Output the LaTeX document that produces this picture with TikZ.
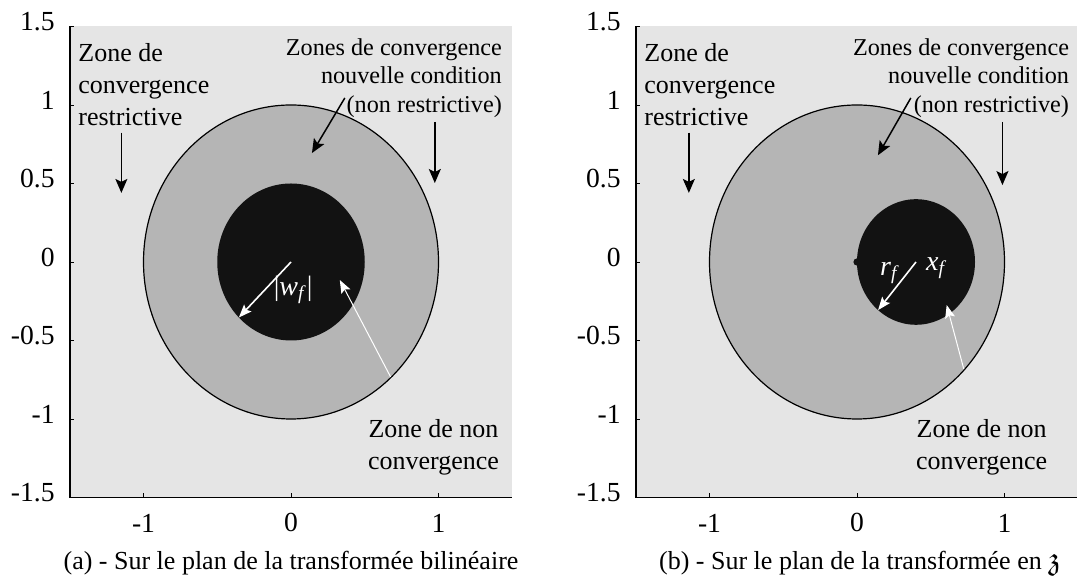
\documentclass[tikz,border=0pt]{standalone}
\usepackage{amssymb}
\usepackage{fontspec}
\setmainfont{Liberation Serif}
\usetikzlibrary{arrows.meta,calc}
\definecolor{fondgris}{gray}{0.90}
\definecolor{anneaugris}{gray}{0.71}
\definecolor{disquenoir}{gray}{0.07}
\tikzset{
  lbl/.style={inner sep=0pt, font=\fontsize{13}{16}\selectfont},
  lblz/.style={inner sep=0pt, font=\fontsize{12.1}{14.3}\selectfont},
  graduation/.style={inner sep=0pt, font=\fontsize{13.8}{16}\selectfont},
  txtblanc/.style={inner sep=0pt, text=white, font=\fontsize{14}{16}\selectfont},
  flnoire/.style={-{Stealth[length=7pt,width=6pt,inset=1.5pt]}, line width=0.75pt},
  flblanche/.style={-{Stealth[length=6.5pt,width=5pt,inset=1.2pt]}, white, line width=0.5pt},
  axe/.style={line width=0.8pt},
}
\begin{document}
\begin{tikzpicture}
  \useasboundingbox (0,0) rectangle (538.5pt,291pt);

  % (a) plan de la transformee bilineaire
  \begin{scope}[xshift=145.5pt, yshift=160pt, x=73.75pt, y=78.5pt]
    \fill[fondgris] (-1.5,-1.5) rectangle (1.5,1.5);
    \filldraw[fill=anneaugris, line width=0.6pt] (0,0) circle (1);
    \fill[disquenoir] (0,0) circle (0.5);

    \draw[axe] (-1.5,1.5) -- (-1.5,-1.5) -- (1.5,-1.5);
    \foreach \y [count=\i] in {-1.5,-1,-0.5,0,0.5,1,1.5} {
      \draw (-1.5,\y) -- ++(2pt,0);
      \node[graduation, anchor=east, yshift=2.5pt] (ya\i) at (-1.6,\y) {\y};
    }
    \foreach \x [count=\i] in {-1,0,1} {
      \draw (\x,-1.5) -- ++(0,2pt);
      \node[graduation] (xa\i) at (\x,-1.662) {\x};
    }

    \node[lbl, align=left, anchor=west] (restra) at (-1.444,1.127) {Zone de\\convergence\\restrictive};
    \coordinate (pra) at (-1.15,0.44);
    \draw[flnoire, shorten <=3pt] (restra.south -| pra) -- (pra);

    \node[lblz, align=right, anchor=east] (zonesa) at (1.432,1.172) {Zones de convergence\\nouvelle condition\\(non restrictive)};
    \coordinate (dza) at (0.365,1.045);
    \coordinate (pza) at (0.142,0.694);
    \draw[flnoire] (dza) -- (pza);
    \coordinate (pda) at (0.975,0.503);
    \draw[flnoire, shorten <=2pt] (zonesa.south -| pda) -- (pda);

    \node[lbl, align=center] (nona) at (0.966,-1.178) {Zone de non\\convergence};
    \coordinate (dna) at (-47.3:0.995);
    \coordinate (pna) at (0.331,-0.115);
    \draw[flblanche] (dna) -- (pna);

    \coordinate (oa) at (0,0);
    \coordinate (pwa) at (225:0.5);
    \draw[flblanche, line width=0.8pt] (oa) -- (pwa);
    \node[txtblanc] (wfa) at (0.014,-0.178) {|\textit{w}\textsubscript{\textit{f}}|};

    \node[lbl] (capa) at (0,-1.917) {(a) - Sur le plan de la transformée bilinéaire};
  \end{scope}

  % (b) plan de la transformee en z
  \begin{scope}[xshift=428.5pt, yshift=160pt, x=73.75pt, y=78.5pt]
    \fill[fondgris] (-1.5,-1.5) rectangle (1.49,1.5);
    \filldraw[fill=anneaugris, line width=0.6pt] (0,0) circle (1);
    \fill[disquenoir] (0.4,0) circle (0.4);
    \fill[disquenoir] (0,0) circle (1.8pt);

    \draw[axe] (-1.5,1.5) -- (-1.5,-1.5) -- (1.49,-1.5);
    \foreach \y [count=\i] in {-1.5,-1,-0.5,0,0.5,1,1.5} {
      \draw (-1.5,\y) -- ++(2pt,0);
      \node[graduation, anchor=east, yshift=2.5pt] (yb\i) at (-1.6,\y) {\y};
    }
    \foreach \x [count=\i] in {-1,0,1} {
      \draw (\x,-1.5) -- ++(0,2pt);
      \node[graduation] (xb\i) at (\x,-1.662) {\x};
    }

    \node[lbl, align=left, anchor=west] (restrb) at (-1.444,1.127) {Zone de\\convergence\\restrictive};
    \coordinate (prb) at (-1.14,0.44);
    \draw[flnoire, shorten <=3pt] (restrb.south -| prb) -- (prb);

    \node[lblz, align=right, anchor=east] (zonesb) at (1.44,1.172) {Zones de convergence\\nouvelle condition\\(non restrictive)};
    \coordinate (dzb) at (0.365,1.045);
    \coordinate (pzb) at (0.142,0.68);
    \draw[flnoire] (dzb) -- (pzb);
    \coordinate (pdb) at (0.986,0.49);
    \draw[flnoire, shorten <=2pt] (zonesb.south -| pdb) -- (pdb);

    \node[lbl, align=center] (nonb) at (0.845,-1.178) {Zone de non\\convergence};
    \coordinate (dnb) at (-43.3:0.995);
    \coordinate (pnb) at (0.608,-0.274);
    \draw[flblanche] (dnb) -- (pnb);

    \coordinate (xf) at (0.4,0);
    \coordinate (prf) at ($(xf)+(230:0.4)$);
    \draw[flblanche, line width=0.8pt] (xf) -- (prf);
    \node[txtblanc] (rfb) at (0.223,-0.07) {\textit{r}\textsubscript{\textit{f}}};
    \node[txtblanc] (xfb) at (0.54,-0.038) {\textit{x}\textsubscript{\textit{f}}};

    \node[lbl] (capb) at (0.02,-1.917) {(b) - Sur le plan de la transformée en {\fontsize{16}{16}\selectfont$\mathfrak{z}$}};
  \end{scope}
\end{tikzpicture}
\end{document}
